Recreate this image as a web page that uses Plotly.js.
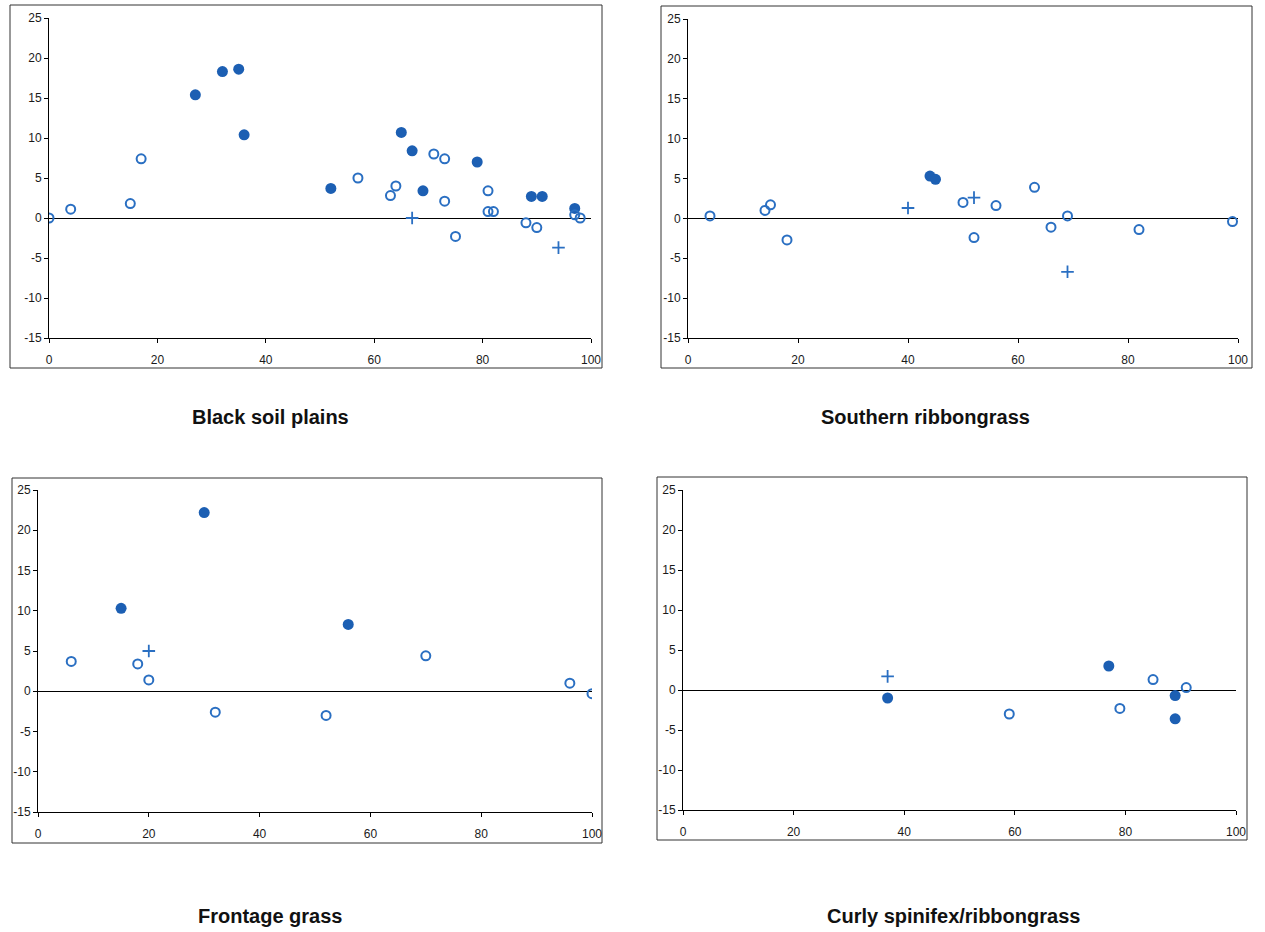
<!DOCTYPE html>
<html>
<head>
<meta charset="utf-8">
<script src="https://cdn.plot.ly/plotly-3.0.1.min.js"></script>
<style>
html,body{margin:0;padding:0;background:#fff;}
#chart{width:1265px;height:932px;}
</style>
</head>
<body>
<div id="chart"></div>
<script>
// ---- Data (x: percentage 0-100, y: change) ----
const panelTitles = ["Black soil plains", "Southern ribbongrass", "Frontage grass", "Curly spinifex/ribbongrass"];

// Black soil plains
const bspFilledX = [27, 32, 35, 36, 52, 65, 67, 69, 79, 89, 91, 97];
const bspFilledY = [15.4, 18.3, 18.6, 10.4, 3.7, 10.7, 8.4, 3.4, 7.0, 2.7, 2.7, 1.2];
const bspOpenX = [0, 4, 15, 17, 57, 63, 64, 71, 73, 73, 75, 81, 81, 82, 88, 90, 97, 98];
const bspOpenY = [0, 1.1, 1.8, 7.4, 5.0, 2.8, 4.0, 8.0, 7.4, 2.1, -2.3, 3.4, 0.8, 0.8, -0.6, -1.2, 0.4, 0];
const bspPlusX = [67, 94];
const bspPlusY = [0, -3.7];

// Southern ribbongrass
const srFilledX = [44, 45];
const srFilledY = [5.3, 4.9];
const srOpenX = [4, 14, 15, 18, 50, 52, 56, 63, 66, 69, 82, 99];
const srOpenY = [0.3, 1.0, 1.7, -2.7, 2.0, -2.4, 1.6, 3.9, -1.1, 0.3, -1.4, -0.4];
const srPlusX = [40, 52, 69];
const srPlusY = [1.3, 2.6, -6.7];

// Frontage grass
const fgFilledX = [15, 30, 56];
const fgFilledY = [10.3, 22.2, 8.3];
const fgOpenX = [6, 18, 20, 32, 52, 70, 96, 100];
const fgOpenY = [3.7, 3.4, 1.4, -2.6, -3.0, 4.4, 1.0, -0.3];
const fgPlusX = [20];
const fgPlusY = [5.0];

// Curly spinifex/ribbongrass
const csFilledX = [37, 77, 89, 89];
const csFilledY = [-1.0, 3.0, -0.7, -3.6];
const csOpenX = [59, 79, 85, 91];
const csOpenY = [-3.0, -2.3, 1.3, 0.3];
const csPlusX = [37];
const csPlusY = [1.7];

const xTicks = [0, 20, 40, 60, 80, 100];
const yTicks = [-15, -10, -5, 0, 5, 10, 15, 20, 25];

// ---- Styling ----
const W = 1265, H = 932;
const blue = '#1c5fb3';
const openBlue = '#2a6fc2';
const tickFont = {size: 12, color: '#1a1a1a', family: 'Liberation Sans, Arial, sans-serif'};

const panels = [
  {fx: bspFilledX, fy: bspFilledY, ox: bspOpenX, oy: bspOpenY, px: bspPlusX, py: bspPlusY,
   plot: [49, 591, 18, 338], frame: [10, 602, 5, 368], title: [270, 417]},
  {fx: srFilledX, fy: srFilledY, ox: srOpenX, oy: srOpenY, px: srPlusX, py: srPlusY,
   plot: [688, 1238, 19, 338], frame: [661, 1252, 6, 368], title: [925, 417]},
  {fx: fgFilledX, fy: fgFilledY, ox: fgOpenX, oy: fgOpenY, px: fgPlusX, py: fgPlusY,
   plot: [38, 592, 490, 812], frame: [12, 602, 478, 843], title: [270, 916]},
  {fx: csFilledX, fy: csFilledY, ox: csOpenX, oy: csOpenY, px: csPlusX, py: csPlusY,
   plot: [683, 1236, 490, 810], frame: [657, 1247, 477, 840], title: [953, 916]}
];

const traces = [];
const layout = {
  width: W, height: H,
  margin: {l: 0, r: 0, t: 0, b: 0},
  paper_bgcolor: '#fff', plot_bgcolor: 'rgba(0,0,0,0)',
  showlegend: false,
  font: {family: 'Liberation Sans, Arial, sans-serif', color: '#111'},
  shapes: [], annotations: []
};

panels.forEach((p, i) => {
  const n = i === 0 ? '' : String(i + 1);
  const xa = 'x' + n, ya = 'y' + n;
  traces.push({x: p.fx, y: p.fy, xaxis: xa, yaxis: ya, type: 'scatter', mode: 'markers',
    marker: {symbol: 'circle', size: 11, color: blue, line: {width: 0}}, hoverinfo: 'x+y'});
  traces.push({x: p.ox, y: p.oy, xaxis: xa, yaxis: ya, type: 'scatter', mode: 'markers',
    marker: {symbol: 'circle-open', size: 9, color: openBlue, line: {width: 2, color: openBlue}}, hoverinfo: 'x+y'});
  traces.push({x: p.px, y: p.py, xaxis: xa, yaxis: ya, type: 'scatter', mode: 'markers',
    marker: {symbol: 'cross-thin-open', size: 9, color: openBlue, line: {width: 1.8, color: openBlue}}, hoverinfo: 'x+y'});

  const [x0, x1, y0, y1] = p.plot;
  layout['xaxis' + n] = {
    domain: [x0 / W, x1 / W], anchor: ya, range: [0, 100],
    tickvals: xTicks, ticktext: xTicks.map(String),
    showgrid: false, zeroline: false, showline: true, linecolor: '#000', linewidth: 1,
    ticks: 'outside', ticklen: 4, tickcolor: '#000', ticklabelstandoff: 7,
    tickfont: tickFont, fixedrange: true
  };
  layout['yaxis' + n] = {
    domain: [1 - y1 / H, 1 - y0 / H], anchor: xa, range: [-15, 25],
    tickvals: yTicks, ticktext: yTicks.map(String),
    showgrid: false, zeroline: true, zerolinecolor: '#000', zerolinewidth: 1,
    showline: true, linecolor: '#000', linewidth: 1,
    ticks: 'outside', ticklen: 4, tickcolor: '#000',
    tickfont: tickFont, fixedrange: true
  };
  const [fx0, fx1, fy0, fy1] = p.frame;
  layout.shapes.push({type: 'rect', xref: 'paper', yref: 'paper',
    x0: fx0 / W, x1: fx1 / W, y0: 1 - fy1 / H, y1: 1 - fy0 / H,
    line: {color: '#333', width: 1}, fillcolor: 'rgba(0,0,0,0)', layer: 'below'});
  layout.annotations.push({xref: 'paper', yref: 'paper', x: p.title[0] / W, y: 1 - p.title[1] / H,
    xanchor: 'center', yanchor: 'middle', showarrow: false, text: '<b>' + panelTitles[i] + '</b>',
    font: {size: 20, color: '#111', family: 'Liberation Sans, Arial, sans-serif'}});
});

Plotly.newPlot('chart', traces, layout, {displayModeBar: false, staticPlot: true});
</script>
</body>
</html>
